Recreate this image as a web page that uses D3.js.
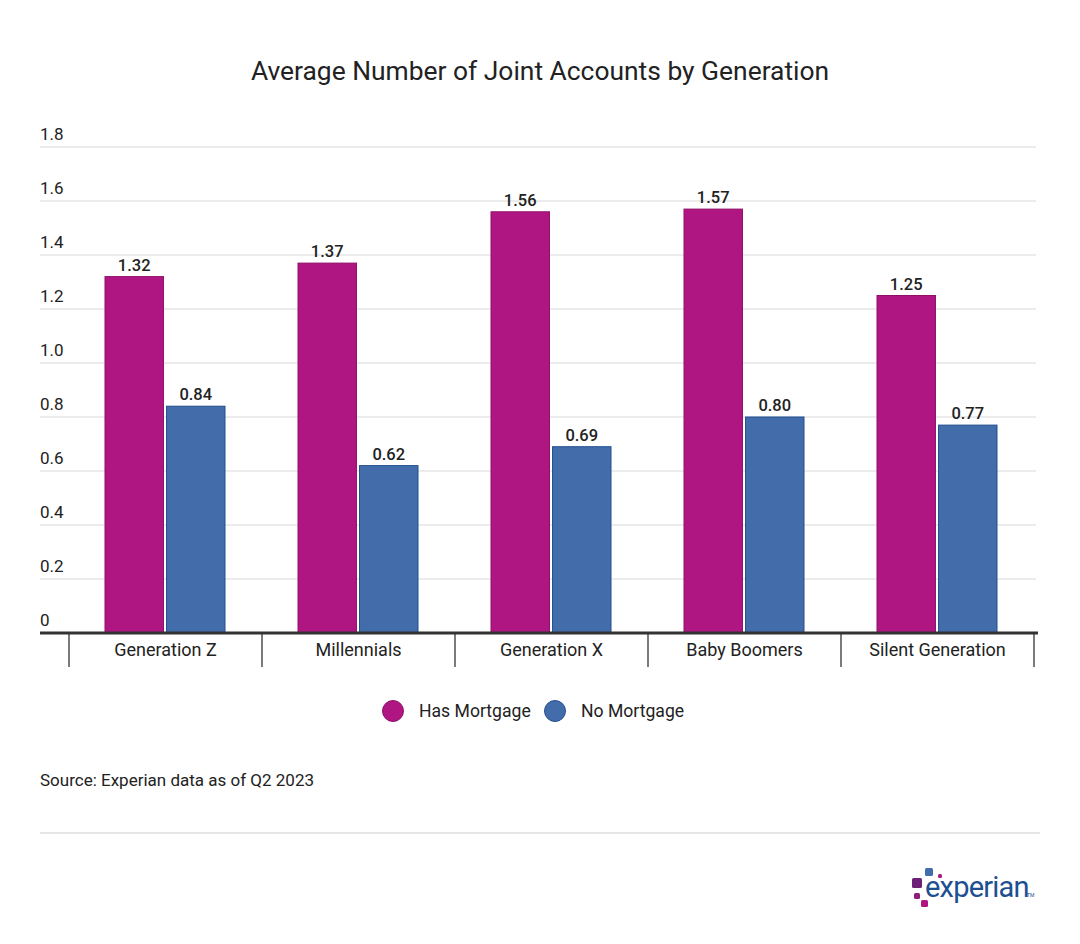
<!DOCTYPE html><html><head><meta charset="utf-8"><script src="https://cdn.jsdelivr.net/npm/d3@7"></script>
<style>body{margin:0;background:#fff}text{font-family:Roboto,sans-serif}</style></head><body><svg id="c" width="1080" height="944"></svg>
<script>
const categories=["Generation Z","Millennials","Generation X","Baby Boomers","Silent Generation"];
const hasMortgage=[1.32,1.37,1.56,1.57,1.25];
const noMortgage=[0.84,0.62,0.69,0.80,0.77];
const yTicks=[0,0.2,0.4,0.6,0.8,1.0,1.2,1.4,1.6,1.8];
const series=[{name:"Has Mortgage",values:hasMortgage,color:"#b01682",stroke:"#8f0f69"},{name:"No Mortgage",values:noMortgage,color:"#426daa",stroke:"#234f8f"}];
const svg=d3.select("#c");
svg.append("text").attr("x",540).attr("y",80).attr("text-anchor","middle").attr("font-size",26.4).attr("fill","#222").text("Average Number of Joint Accounts by Generation");
const y=d3.scaleLinear().domain([0,1.8]).range([633,147]);
const x=d3.scaleBand().domain(categories).range([69,1034]);
const inner=d3.scaleBand().domain(series.map(s=>s.name)).range([36,156]).paddingInner(0.05);
yTicks.forEach(t=>{
 if(t>0)svg.append("line").attr("x1",40).attr("x2",1036).attr("y1",y(t)).attr("y2",y(t)).attr("stroke","#d9d9d9");
 svg.append("text").attr("x",40).attr("y",y(t)-7).attr("font-size",17).attr("fill","#222").text(t===0?"0":t.toFixed(1));
});
series.forEach(s=>{
 categories.forEach((c,i)=>{
  const bx=x(c)+inner(s.name), v=s.values[i];
  svg.append("rect").attr("x",bx).attr("y",y(v)).attr("width",inner.bandwidth()).attr("height",y(0)-y(v)).attr("fill",s.color).attr("stroke",s.stroke).attr("stroke-width",1);
  svg.append("text").attr("x",bx+inner.bandwidth()/2).attr("y",y(v)-6).attr("text-anchor","middle").attr("font-size",16.5).attr("font-weight",500).attr("fill","#222").text(v.toFixed(2));
 });
});
svg.append("line").attr("x1",40).attr("x2",1038).attr("y1",633).attr("y2",633).attr("stroke","#333").attr("stroke-width",3);
[...categories.map(c=>x(c)),x.range()[1]].forEach(px=>svg.append("line").attr("x1",px).attr("x2",px).attr("y1",634).attr("y2",667).attr("stroke","#222").attr("stroke-width",1.2));
categories.forEach(c=>svg.append("text").attr("x",x(c)+x.bandwidth()/2).attr("y",656).attr("text-anchor","middle").attr("font-size",18).attr("fill","#222").text(c));
const lx=[393,555];
series.forEach((s,i)=>{
 svg.append("circle").attr("cx",lx[i]).attr("cy",711).attr("r",10.5).attr("fill",s.color).attr("stroke",s.stroke);
 svg.append("text").attr("x",lx[i]+26).attr("y",717).attr("font-size",17.6).attr("fill","#222").text(s.name);
});
svg.append("text").attr("x",40).attr("y",786).attr("font-size",17).attr("fill","#222").text("Source: Experian data as of Q2 2023");
svg.append("line").attr("x1",40).attr("x2",1040).attr("y1",833).attr("y2",833).attr("stroke","#ccc");
const g=svg.append("g");
[[925,868,8,8,"#426daa"],[938,874,4,4,"#b01682"],[912,878,10,10,"#6d2077"],[914,893,6,6,"#8f1d7a"],[921,900,7,7,"#b01682"]].forEach(d=>g.append("rect").attr("x",d[0]).attr("y",d[1]).attr("width",d[2]).attr("height",d[3]).attr("rx",1.5).attr("fill",d[4]));
g.append("text").attr("x",925).attr("y",897).attr("font-size",29).attr("fill","#1d4f91").attr("letter-spacing",-0.8).text("experian");
g.append("text").attr("x",1027).attr("y",897).attr("font-size",5).attr("fill","#1d4f91").text("TM");
</script></body></html>
